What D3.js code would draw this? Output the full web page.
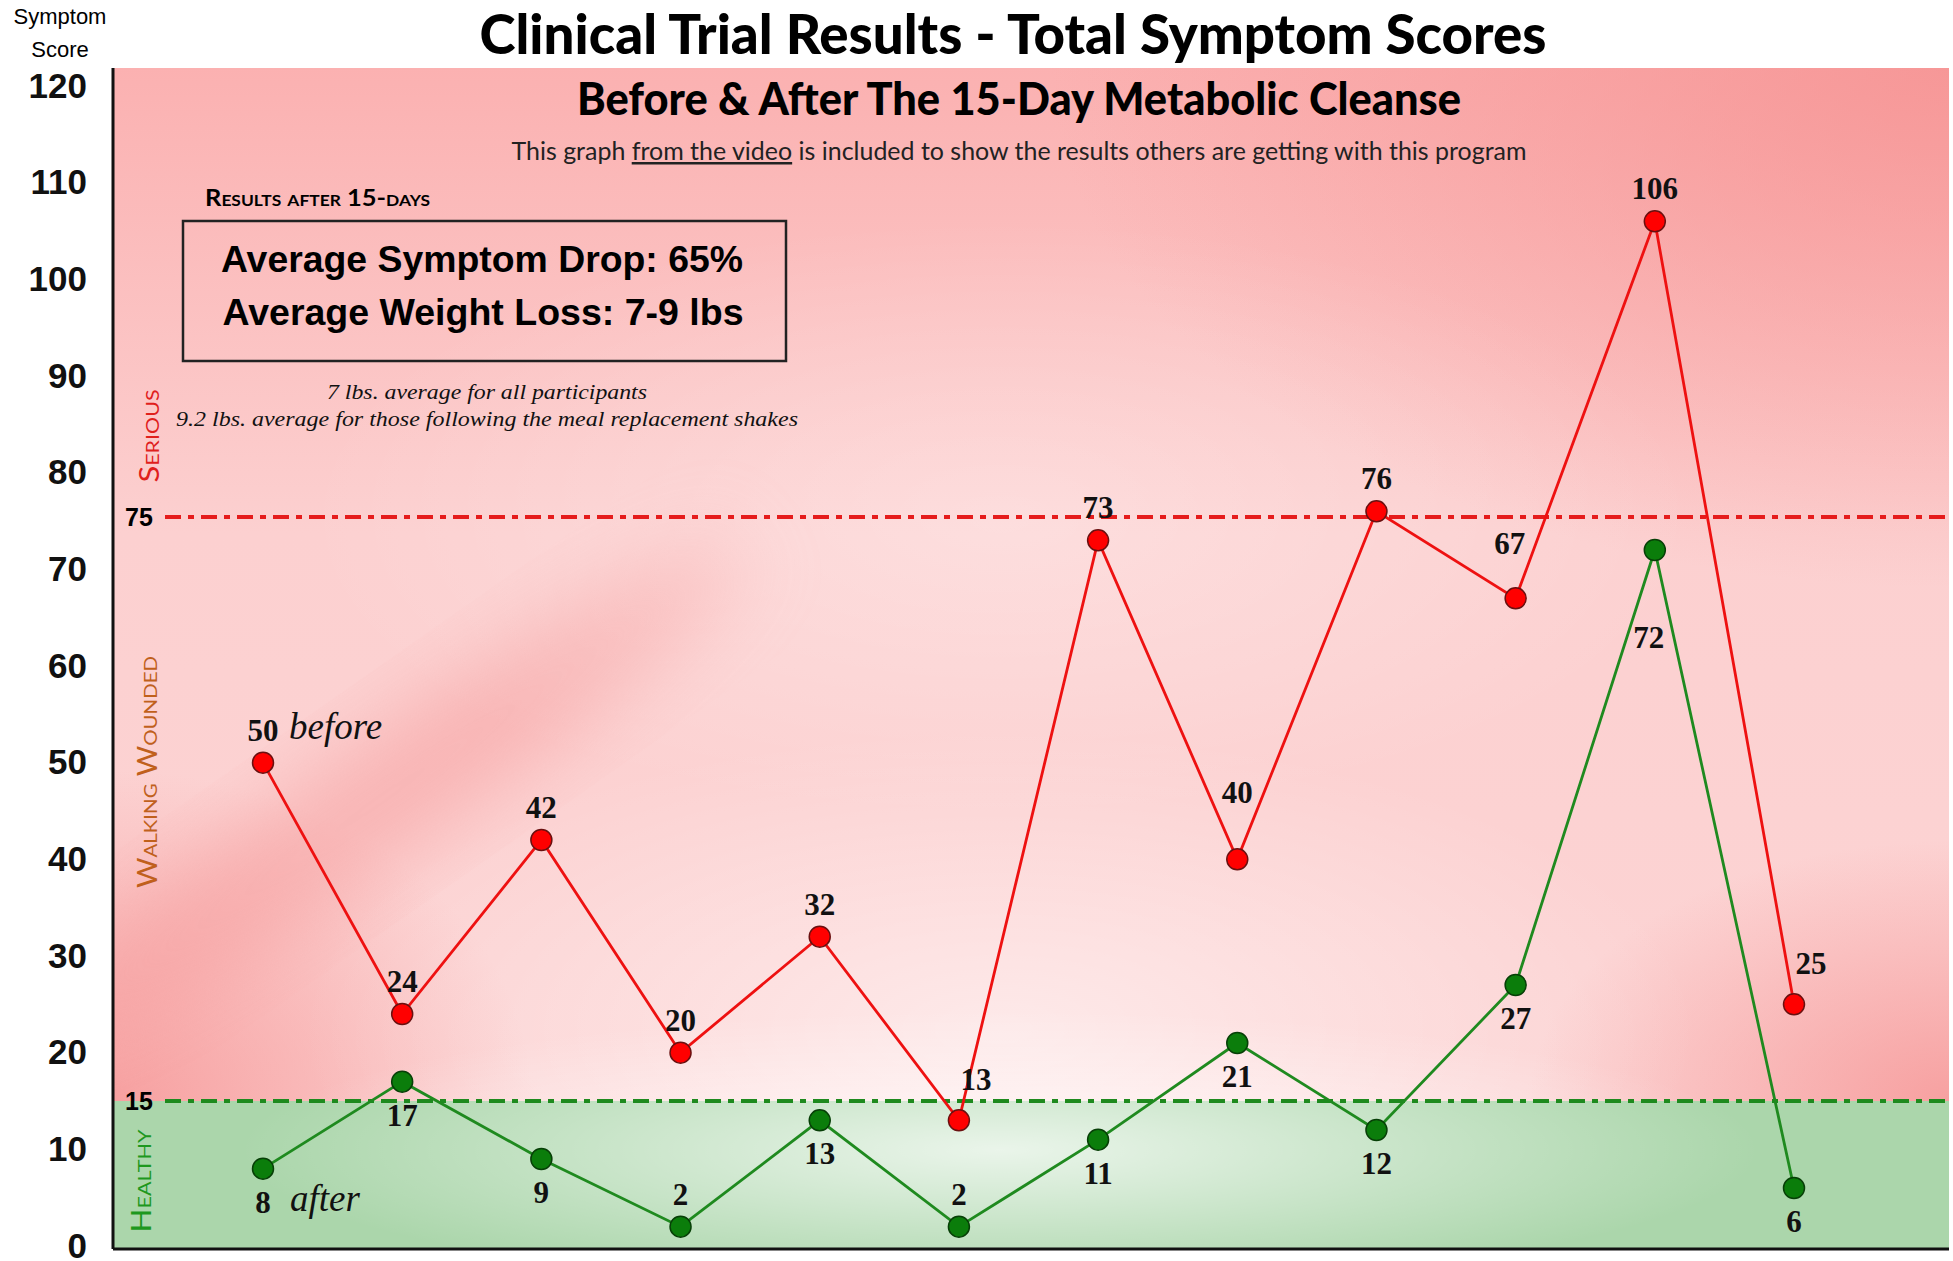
<!DOCTYPE html>
<html>
<head>
<meta charset="utf-8">
<script src="https://d3js.org/d3.v7.min.js"></script>
<style>
body{margin:0;background:#fff;}
svg{display:block;}
.tick text{font-family:"Liberation Sans",Arial,sans-serif;font-weight:bold;font-size:35px;fill:#111;}
.val{font-family:"Liberation Serif","Times New Roman",serif;font-weight:bold;font-size:31px;fill:#111;}
.note{font-family:"Liberation Serif","Times New Roman",serif;font-style:italic;fill:#111;}
</style>
</head>
<body>
<svg id="chart" width="1953" height="1261"></svg>
<script>
// data
var participants = ["1", "2", "3", "4", "5", "6", "7", "8", "9", "10", "11", "12"]
var before = [50, 24, 42, 20, 32, 13, 73, 40, 76, 67, 106, 25]
var after = [8, 17, 9, 2, 13, 2, 11, 21, 12, 27, 72, 6]
var yTicks = [0, 10, 20, 30, 40, 50, 60, 70, 80, 90, 100, 110, 120]
var seriousLine = 75
var healthyLine = 15

// where each value label sits relative to its dot
var beforeLabelPos = ["above", "above", "above", "above", "above", "aboveRight", "above", "aboveFar", "above", "aboveLeft", "above", "aboveRight"]
var afterLabelPos = ["below", "below", "below", "above", "below", "above", "below", "below", "below", "below", "belowFar", "below"]

var plotLeft = 113, plotRight = 1949, plotTop = 68, plotBottom = 1249

var svg = d3.select("#chart")

var x = d3.scalePoint()
          .domain(participants)
          .range([263, 1794])

var y = d3.scaleLinear()
          .domain([0, 120])
          .range([1246, 86])

var redH = y(healthyLine) - plotTop

// ---------- background gradients ----------
var defs = svg.append("defs")

var g1 = defs.append("linearGradient").attr("id", "redBase")
             .attr("x1", 0).attr("y1", 0).attr("x2", 0).attr("y2", 1)
g1.append("stop").attr("offset", "0%").attr("stop-color", "#fbb1b1")
g1.append("stop").attr("offset", "45%").attr("stop-color", "#fcd0d0")
g1.append("stop").attr("offset", "100%").attr("stop-color", "#fcd4d4")

function radial(id, color, op){
    var r = defs.append("radialGradient").attr("id", id)
    r.append("stop").attr("offset", "0%").attr("stop-color", color).attr("stop-opacity", op)
    r.append("stop").attr("offset", "100%").attr("stop-color", color).attr("stop-opacity", 0)
}
radial("lightSpot", "#ffffff", 0.5)
radial("darkSpot", "#f58f8f", 0.75)
radial("greenLight", "#ffffff", 0.75)

defs.append("filter").attr("id", "blur")
    .attr("x", "-50%").attr("y", "-50%").attr("width", "200%").attr("height", "200%")
    .append("feGaussianBlur").attr("stdDeviation", 40)

defs.append("clipPath").attr("id", "redClip")
    .append("rect").attr("x", plotLeft).attr("y", plotTop)
    .attr("width", plotRight - plotLeft).attr("height", redH)

var bg = svg.append("g").attr("clip-path", "url(#redClip)")
bg.append("rect")
  .attr("x", plotLeft).attr("y", plotTop)
  .attr("width", plotRight - plotLeft).attr("height", redH)
  .attr("fill", "url(#redBase)")

// darker corners
bg.append("ellipse").attr("cx", plotRight).attr("cy", plotTop).attr("rx", 900).attr("ry", 520)
  .attr("fill", "url(#darkSpot)")
bg.append("ellipse").attr("cx", plotRight).attr("cy", y(healthyLine)).attr("rx", 420).attr("ry", 260)
  .attr("fill", "url(#darkSpot)")
bg.append("ellipse").attr("cx", plotLeft).attr("cy", y(healthyLine)).attr("rx", 420).attr("ry", 330)
  .attr("fill", "url(#darkSpot)")
// diagonal streak on the left
bg.append("ellipse").attr("cx", 380).attr("cy", 800).attr("rx", 440).attr("ry", 55)
  .attr("transform", "rotate(-35,380,800)")
  .attr("fill", "#f59a9a").attr("opacity", 0.55)
  .attr("filter", "url(#blur)")
// light patches
bg.append("ellipse").attr("cx", 1000).attr("cy", 1030).attr("rx", 700).attr("ry", 300)
  .attr("fill", "url(#lightSpot)")
bg.append("ellipse").attr("cx", 1000).attr("cy", 520).attr("rx", 700).attr("ry", 300)
  .attr("fill", "url(#lightSpot)").attr("opacity", 0.6)

// healthy zone
svg.append("rect")
   .attr("x", plotLeft).attr("y", y(healthyLine))
   .attr("width", plotRight - plotLeft).attr("height", plotBottom - y(healthyLine))
   .attr("fill", "#abd6ab")
svg.append("ellipse")
   .attr("cx", 1000).attr("cy", 1150).attr("rx", 760).attr("ry", 140)
   .attr("fill", "url(#greenLight)")

// ---------- frame and axis ----------
svg.append("line").attr("x1", plotLeft).attr("x2", plotLeft).attr("y1", plotTop).attr("y2", plotBottom)
   .attr("stroke", "#111").attr("stroke-width", 3)
svg.append("line").attr("x1", plotLeft).attr("x2", plotRight).attr("y1", plotBottom).attr("y2", plotBottom)
   .attr("stroke", "#111").attr("stroke-width", 3)

var yAxis = d3.axisLeft(y)
              .tickValues(yTicks)
              .tickSize(0)
              .tickPadding(26)

svg.append("g")
   .attr("transform", "translate(" + plotLeft + ",0)")
   .call(yAxis)
   .call(function(g){ g.select(".domain").remove() })

svg.append("text").attr("x", 60).attr("y", 24).attr("text-anchor", "middle")
   .attr("font-family", "Liberation Sans, Arial, sans-serif").attr("font-size", 22)
   .text("Symptom")
svg.append("text").attr("x", 60).attr("y", 57).attr("text-anchor", "middle")
   .attr("font-family", "Liberation Sans, Arial, sans-serif").attr("font-size", 22)
   .text("Score")

// ---------- threshold lines ----------
svg.append("line")
   .attr("x1", 165).attr("x2", plotRight)
   .attr("y1", y(seriousLine) - 4).attr("y2", y(seriousLine) - 4)
   .attr("stroke", "#e51c1c").attr("stroke-width", 4)
   .attr("stroke-dasharray", "16,7,6,7")
svg.append("line")
   .attr("x1", 165).attr("x2", plotRight)
   .attr("y1", y(healthyLine)).attr("y2", y(healthyLine))
   .attr("stroke", "#1e8a1e").attr("stroke-width", 4)
   .attr("stroke-dasharray", "16,7,6,7")

svg.append("text").attr("x", 125).attr("y", y(seriousLine) + 5)
   .attr("font-family", "Liberation Sans, Arial, sans-serif").attr("font-weight", "bold")
   .attr("font-size", 25).text(seriousLine)
svg.append("text").attr("x", 125).attr("y", y(healthyLine) + 9)
   .attr("font-family", "Liberation Sans, Arial, sans-serif").attr("font-weight", "bold")
   .attr("font-size", 25).text(healthyLine)

// zone names, rotated
function zoneLabel(txt, cx, cy, len, color){
    svg.append("text")
       .attr("transform", "translate(" + cx + "," + cy + ") rotate(-90)")
       .attr("text-anchor", "middle")
       .attr("dy", "0.35em")
       .attr("font-family", "Lato, sans-serif")
       .attr("font-size", 26)
       .style("font-variant", "small-caps")
       .attr("textLength", len)
       .attr("lengthAdjust", "spacingAndGlyphs")
       .attr("fill", color)
       .text(txt)
}
zoneLabel("Serious", 150, 436, 93, "#e0201c")
zoneLabel("Walking Wounded", 148, 772, 232, "#c0601c")
zoneLabel("Healthy", 142, 1181, 103, "#1e981e")

// ---------- titles ----------
svg.append("text").attr("x", 1013).attr("y", 54).attr("text-anchor", "middle")
   .attr("font-family", "Lato, sans-serif").attr("font-weight", 900).attr("font-size", 56)
   .attr("textLength", 1067).attr("lengthAdjust", "spacingAndGlyphs")
   .text("Clinical Trial Results - Total Symptom Scores")
svg.append("text").attr("x", 1019).attr("y", 115).attr("text-anchor", "middle")
   .attr("font-family", "Lato, sans-serif").attr("font-weight", 900).attr("font-size", 46)
   .attr("textLength", 884).attr("lengthAdjust", "spacingAndGlyphs")
   .text("Before & After The 15-Day Metabolic Cleanse")

var sub = svg.append("text").attr("x", 1019).attr("y", 160).attr("text-anchor", "middle")
   .attr("font-family", "Lato, sans-serif").attr("font-size", 25).attr("fill", "#222")
   .attr("textLength", 1015).attr("lengthAdjust", "spacingAndGlyphs")
sub.append("tspan").text("This graph ")
sub.append("tspan").style("text-decoration", "underline").text("from the video")
sub.append("tspan").text(" is included to show the results others are getting with this program")

// ---------- results box ----------
svg.append("text").attr("x", 205).attr("y", 206)
   .attr("font-family", "Lato, sans-serif").attr("font-weight", "bold").attr("font-size", 22)
   .style("font-variant", "small-caps")
   .attr("textLength", 225).attr("lengthAdjust", "spacingAndGlyphs")
   .text("Results after 15-days")
svg.append("rect").attr("x", 183).attr("y", 221).attr("width", 603).attr("height", 140)
   .attr("fill", "none").attr("stroke", "#222").attr("stroke-width", 2.5)
svg.append("text").attr("x", 482).attr("y", 272).attr("text-anchor", "middle")
   .attr("font-family", "Liberation Sans, Arial, sans-serif").attr("font-weight", "bold").attr("font-size", 36)
   .attr("textLength", 522).attr("lengthAdjust", "spacingAndGlyphs")
   .text("Average Symptom Drop: 65%")
svg.append("text").attr("x", 483).attr("y", 325).attr("text-anchor", "middle")
   .attr("font-family", "Liberation Sans, Arial, sans-serif").attr("font-weight", "bold").attr("font-size", 36)
   .attr("textLength", 521).attr("lengthAdjust", "spacingAndGlyphs")
   .text("Average Weight Loss: 7-9 lbs")

svg.append("text").attr("class", "note").attr("x", 487).attr("y", 399).attr("text-anchor", "middle")
   .attr("font-size", 22).attr("textLength", 320).attr("lengthAdjust", "spacingAndGlyphs")
   .text("7 lbs. average for all participants")
svg.append("text").attr("class", "note").attr("x", 487).attr("y", 426).attr("text-anchor", "middle")
   .attr("font-size", 22).attr("textLength", 622).attr("lengthAdjust", "spacingAndGlyphs")
   .text("9.2 lbs. average for those following the meal replacement shakes")

// ---------- series ----------
var line = d3.line()
             .x(function(d, i){ return x(participants[i]) })
             .y(function(d){ return y(d) })

svg.append("path").datum(before)
   .attr("d", line).attr("fill", "none")
   .attr("stroke", "#ee1111").attr("stroke-width", 2.8)
svg.append("path").datum(after)
   .attr("d", line).attr("fill", "none")
   .attr("stroke", "#1f8a1f").attr("stroke-width", 2.8)

svg.selectAll(".dotB").data(before).enter().append("circle")
   .attr("class", "dotB")
   .attr("cx", function(d, i){ return x(participants[i]) })
   .attr("cy", function(d){ return y(d) })
   .attr("r", 10.5)
   .attr("fill", "#ff0000").attr("stroke", "#6a1010").attr("stroke-width", 1.5)

svg.selectAll(".dotA").data(after).enter().append("circle")
   .attr("class", "dotA")
   .attr("cx", function(d, i){ return x(participants[i]) })
   .attr("cy", function(d){ return y(d) })
   .attr("r", 10.5)
   .attr("fill", "#0b7d0b").attr("stroke", "#073f07").attr("stroke-width", 1.5)

var offsets = {
    above: [0, -22],
    aboveFar: [0, -56],
    aboveRight: [17, -30],
    aboveLeft: [-6, -44],
    below: [0, 44],
    belowFar: [-6, 98]
}

svg.selectAll(".labB").data(before).enter().append("text")
   .attr("class", "val labB")
   .attr("text-anchor", "middle")
   .attr("x", function(d, i){ return x(participants[i]) + offsets[beforeLabelPos[i]][0] })
   .attr("y", function(d, i){ return y(d) + offsets[beforeLabelPos[i]][1] })
   .text(function(d){ return d })

svg.selectAll(".labA").data(after).enter().append("text")
   .attr("class", "val labA")
   .attr("text-anchor", "middle")
   .attr("x", function(d, i){ return x(participants[i]) + offsets[afterLabelPos[i]][0] })
   .attr("y", function(d, i){ return y(d) + offsets[afterLabelPos[i]][1] })
   .text(function(d){ return d })

svg.append("text").attr("class", "note")
   .attr("x", x(participants[0]) + 26).attr("y", y(before[0]) - 24)
   .attr("font-size", 37).text("before")
svg.append("text").attr("class", "note")
   .attr("x", x(participants[0]) + 27).attr("y", y(after[0]) + 42)
   .attr("font-size", 37).text("after")
</script>
</body>
</html>
